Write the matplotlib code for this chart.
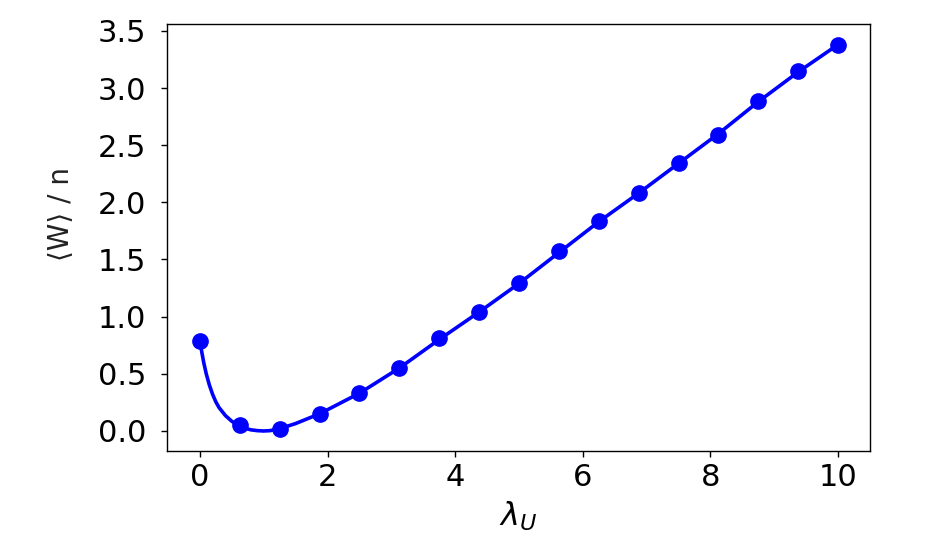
import matplotlib
matplotlib.use("Agg")
import matplotlib.pyplot as plt

# marker data
lam_points = [0.0, 0.625, 1.25, 1.875, 2.5, 3.125, 3.75, 4.375, 5.0, 5.625,
              6.25, 6.875, 7.5, 8.125, 8.75, 9.375, 10.0]
w_points = [0.79, 0.055, 0.02, 0.15, 0.33, 0.55, 0.81, 1.04, 1.29, 1.57,
            1.84, 2.08, 2.34, 2.59, 2.89, 3.15, 3.38]

# smooth curve
lam_curve = [0.0, 0.03, 0.06, 0.1, 0.15, 0.2, 0.25, 0.3, 0.4, 0.5, 0.6, 0.7,
             0.8, 0.9, 1.0, 1.1, 1.25, 1.5, 1.875, 2.5, 3.125, 3.75, 4.375,
             5.0, 5.625, 6.25, 6.875, 7.5, 8.125, 8.75, 9.375, 10.0]
w_curve = [0.79, 0.69, 0.60, 0.50, 0.40, 0.32, 0.255, 0.205, 0.135, 0.085,
           0.05, 0.025, 0.01, 0.003, 0.0, 0.003, 0.02, 0.065, 0.15, 0.33,
           0.55, 0.80, 1.04, 1.29, 1.56, 1.83, 2.08, 2.34, 2.60, 2.88, 3.14, 3.38]

xticks = [0, 2, 4, 6, 8, 10]
yticks = [0.0, 0.5, 1.0, 1.5, 2.0, 2.5, 3.0, 3.5]

plt.rcParams['font.family'] = ['DejaVu Sans']
fig = plt.figure(figsize=(9.26, 5.45), dpi=100)
ax = fig.add_axes([0.180, 0.1725, 0.7595, 0.7835])

ax.plot(lam_curve, w_curve, color='#0000ff', lw=2.6, zorder=2)
ax.plot(lam_points, w_points, 'o', color='#0000ff', ms=11, zorder=3)

ax.set_xlim(-0.52, 10.5)
ax.set_ylim(-0.175, 3.56)
ax.set_xticks(xticks)
ax.set_xticklabels([str(t) for t in xticks])
ax.set_yticks(yticks)
ax.set_yticklabels([f"{t:.1f}" for t in yticks])
ax.tick_params(direction='out', length=4.5, width=1, labelsize=22, colors='black')
ax.tick_params(axis='y', pad=10)
ax.tick_params(axis='x', pad=4)
for s in ax.spines.values():
    s.set_linewidth(1.0)
    s.set_color('black')

ax.set_xlabel(r'$\lambda_U$', fontsize=23)
ax.xaxis.set_label_coords(0.5, -0.115)
ax.set_ylabel('\u27e8W\u27e9 / n', fontsize=20, color='#222222')
ax.yaxis.set_label_coords(-0.132, 0.555)

fig.savefig('out.png', dpi=100)
